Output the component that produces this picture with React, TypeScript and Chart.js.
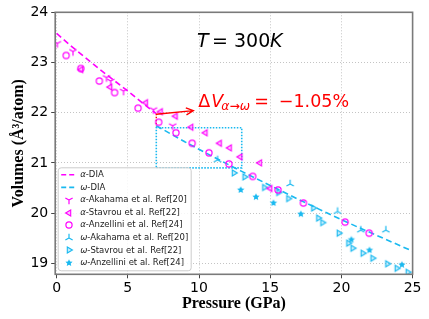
import React, { useEffect, useRef } from 'react';
import { Chart, registerables } from 'chart.js';

Chart.register(...registerables);

// ---------- data ----------
const xTicks = [0, 5, 10, 15, 20, 25];
const yTicks = [19, 20, 21, 22, 23, 24];

const alphaDiaP = [0, 1, 2, 3, 4, 5, 6, 7];
const alphaDiaV = [23.58, 23.33, 23.1, 22.87, 22.65, 22.43, 22.2, 21.98];

const omegaDiaP = [7, 9, 11, 13, 15, 17, 19, 21, 23, 25];
const omegaDiaV = [21.74, 21.42, 21.12, 20.83, 20.55, 20.27, 20.0, 19.74, 19.49, 19.24];

const aAkahamaP = [0.05, 1.15, 3.5, 3.8, 4.7, 6.8, 8.15];
const aAkahamaV = [23.38, 23.22, 22.7, 22.63, 22.43, 22.06, 21.74];

const aStavrouP = [1.72, 3.76, 6.26, 7.3, 8.35, 9.45, 10.45, 11.45, 12.15, 12.9, 14.27, 15.0];
const aStavrouV = [22.86, 22.51, 22.2, 22.02, 21.93, 21.71, 21.6, 21.39, 21.3, 21.12, 21.0, 20.49];

const aAnzelliniP = [0.67, 1.7, 3.0, 4.07, 5.72, 7.17, 8.38, 9.52, 10.7, 12.1, 13.77, 15.55, 17.33, 20.26, 21.95];
const aAnzelliniV = [23.14, 22.88, 22.63, 22.4, 22.09, 21.81, 21.6, 21.39, 21.2, 20.98, 20.73, 20.46, 20.2, 19.82, 19.6];

const wAkahamaP = [11.3, 16.4, 19.73, 21.36, 23.12];
const wAkahamaV = [21.06, 20.58, 20.03, 19.66, 19.66];

const wStavrouP = [12.45, 13.2, 14.59, 15.58, 16.28, 18.03, 18.38, 18.67, 19.82, 20.49, 20.79, 21.5, 22.19, 23.23, 23.89, 24.66];
const wStavrouV = [20.8, 20.72, 20.51, 20.41, 20.29, 20.1, 19.9, 19.81, 19.6, 19.4, 19.3, 19.2, 19.1, 18.99, 18.9, 18.82];

const wAnzelliniP = [12.93, 14.0, 15.23, 17.15, 20.7, 21.97, 24.25];
const wAnzelliniV = [20.46, 20.32, 20.2, 19.98, 19.47, 19.26, 18.97];

// zoom box and transition marker
const boxP = [7, 13, 13, 7, 7];
const boxV = [20.9, 20.9, 21.7, 21.7, 20.9];
const jumpP = [7, 7];
const jumpV = [21.98, 21.73];
const arrowP = [7, 9.6];
const arrowV = [21.97, 22.04];

const legendLabels = [
  ['α', '-DIA'],
  ['ω', '-DIA'],
  ['α', '-Akahama et al. Ref[20]'],
  ['α', '-Stavrou et al. Ref[22]'],
  ['α', '-Anzellini et al. Ref[24]'],
  ['ω', '-Akahama et al. Ref[20]'],
  ['ω', '-Stavrou et al. Ref[22]'],
  ['ω', '-Anzellini et al. Ref[24]'],
];

const MAG = '#ff00ff';
const CYA = '#19b9f0';
const RED = '#ff0000';

const pts = (xs: number[], ys: number[]) => xs.map((x, i) => ({ x, y: ys[i] }));

function makeMarker(kind: string, color: string) {
  const size = 12;
  const c = document.createElement('canvas');
  c.width = size;
  c.height = size;
  const g = c.getContext('2d')!;
  const m = size / 2;
  g.strokeStyle = color;
  g.fillStyle = color;
  g.lineWidth = 1.2;
  if (kind === 'triDown' || kind === 'triUp') {
    const r = 4.2;
    const s = kind === 'triDown' ? 1 : -1;
    g.beginPath();
    g.moveTo(m, m); g.lineTo(m, m + s * r);
    g.moveTo(m, m); g.lineTo(m - 0.866 * r, m - s * 0.5 * r);
    g.moveTo(m, m); g.lineTo(m + 0.866 * r, m - s * 0.5 * r);
    g.stroke();
  } else if (kind === 'triLeft' || kind === 'triRight') {
    const r = 3.4;
    const s = kind === 'triLeft' ? -1 : 1;
    g.lineWidth = 1.1;
    g.beginPath();
    g.moveTo(m + s * r, m);
    g.lineTo(m - s * 0.5 * r, m - 0.866 * r);
    g.lineTo(m - s * 0.5 * r, m + 0.866 * r);
    g.closePath();
    g.globalAlpha = 0.25;
    g.fill();
    g.globalAlpha = 1;
    g.stroke();
  } else if (kind === 'circle') {
    g.beginPath();
    g.arc(m, m, 3.1, 0, Math.PI * 2);
    g.stroke();
  } else if (kind === 'star') {
    const ro = 3.8, ri = 1.8;
    g.beginPath();
    for (let i = 0; i < 10; i++) {
      const r = i % 2 === 0 ? ro : ri;
      const a = -Math.PI / 2 + (i * Math.PI) / 5;
      const px = m + r * Math.cos(a);
      const py = m + r * Math.sin(a);
      if (i === 0) g.moveTo(px, py); else g.lineTo(px, py);
    }
    g.closePath();
    g.fill();
  }
  return c;
}

export default function App() {
  const ref = useRef<HTMLCanvasElement>(null);

  useEffect(() => {
    document.body.style.margin = '0';
    const canvas = ref.current!;
    const mk = {
      aAk: makeMarker('triDown', MAG),
      aSt: makeMarker('triLeft', MAG),
      aAn: makeMarker('circle', MAG),
      wAk: makeMarker('triUp', CYA),
      wSt: makeMarker('triRight', CYA),
      wAn: makeMarker('star', CYA),
    };

    const scatterDs = (label: string, xs: number[], ys: number[], style: HTMLCanvasElement, color: string) => ({
      label,
      data: pts(xs, ys),
      showLine: false,
      pointStyle: style,
      pointRadius: 4,
      borderColor: color,
      backgroundColor: color,
      order: 0,
    });

    const lineDs = (label: string, xs: number[], ys: number[], color: string, dash: number[], width: number) => ({
      label,
      data: pts(xs, ys),
      showLine: true,
      borderColor: color,
      borderWidth: width,
      borderDash: dash,
      pointRadius: 0,
      fill: false,
      tension: 0,
      order: 5,
    });

    const overlay = {
      id: 'overlay',
      afterDatasetsDraw(chart: any) {
        const { ctx, chartArea: a, scales } = chart;
        const sx = scales.x, sy = scales.y;
        ctx.save();
        // frame
        ctx.strokeStyle = '#7a7a7a';
        ctx.lineWidth = 1.6;
        ctx.setLineDash([]);
        ctx.strokeRect(a.left, a.top, a.right - a.left, a.bottom - a.top);

        // arrow
        const x0 = sx.getPixelForValue(arrowP[0]), y0 = sy.getPixelForValue(arrowV[0]);
        const x1 = sx.getPixelForValue(arrowP[1]), y1 = sy.getPixelForValue(arrowV[1]);
        ctx.strokeStyle = RED;
        ctx.lineWidth = 1.4;
        ctx.beginPath();
        ctx.moveTo(x0, y0); ctx.lineTo(x1, y1);
        const ang = Math.atan2(y1 - y0, x1 - x0);
        const hl = 8, ha = 0.45;
        ctx.moveTo(x1 - hl * Math.cos(ang - ha), y1 - hl * Math.sin(ang - ha));
        ctx.lineTo(x1, y1);
        ctx.lineTo(x1 - hl * Math.cos(ang + ha), y1 - hl * Math.sin(ang + ha));
        ctx.stroke();

        // T = 300K
        const tx = sx.getPixelForValue(9.86), ty = sy.getPixelForValue(23.3);
        ctx.fillStyle = '#000';
        ctx.textBaseline = 'alphabetic';
        ctx.textAlign = 'left';
        ctx.font = 'italic 19px "DejaVu Sans"';
        ctx.fillText('T', tx, ty);
        ctx.font = '19px "DejaVu Sans"';
        ctx.fillText('=', tx + 15, ty);
        ctx.fillText('300', tx + 37, ty);
        ctx.font = 'italic 19px "DejaVu Sans"';
        ctx.fillText('K', tx + 73, ty);

        // Delta V annotation
        const dx = sx.getPixelForValue(9.95), dy = sy.getPixelForValue(22.12);
        ctx.fillStyle = RED;
        ctx.font = '17.5px "DejaVu Sans"';
        ctx.fillText('Δ', dx, dy);
        ctx.font = 'italic 17.5px "DejaVu Sans"';
        ctx.fillText('V', dx + 13, dy);
        ctx.font = 'italic 12.3px "DejaVu Sans"';
        ctx.fillText('α→ω', dx + 23, dy + 3.5);
        ctx.font = '17.5px "DejaVu Sans"';
        ctx.fillText('=', dx + 56, dy);
        ctx.fillText('−1.05%', dx + 80.5, dy);

        // legend
        const lx = a.left + 3, lw = 133, lh = 103;
        const ly = a.bottom - 3.5 - lh;
        ctx.fillStyle = 'rgba(255,255,255,0.85)';
        ctx.strokeStyle = '#cccccc';
        ctx.lineWidth = 1;
        ctx.beginPath();
        if ((ctx as any).roundRect) (ctx as any).roundRect(lx, ly, lw, lh, 3); else ctx.rect(lx, ly, lw, lh);
        ctx.fill();
        ctx.stroke();
        const markers = [null, null, mk.aAk, mk.aSt, mk.aAn, mk.wAk, mk.wSt, mk.wAn];
        const colors = [MAG, CYA, MAG, MAG, MAG, CYA, CYA, CYA];
        for (let i = 0; i < legendLabels.length; i++) {
          const ry = ly + 7 + i * 12.6;
          const mx = lx + 11;
          if (i < 2) {
            ctx.strokeStyle = colors[i];
            ctx.lineWidth = 1.6;
            ctx.setLineDash([5, 3]);
            ctx.beginPath();
            ctx.moveTo(lx + 3, ry); ctx.lineTo(lx + 19, ry);
            ctx.stroke();
            ctx.setLineDash([]);
          } else {
            const m = markers[i]!;
            ctx.drawImage(m, Math.round(mx - m.width / 2), Math.round(ry - m.height / 2));
          }
          ctx.fillStyle = '#222';
          ctx.textBaseline = 'middle';
          ctx.font = 'italic 8.5px "DejaVu Sans"';
          const tx0 = lx + 22;
          ctx.fillText(legendLabels[i][0], tx0, ry);
          const w = ctx.measureText(legendLabels[i][0]).width;
          ctx.font = '8.5px "DejaVu Sans"';
          ctx.fillText(legendLabels[i][1], tx0 + w, ry);
        }
        ctx.restore();
      },
    };

    const tickFont = { family: 'DejaVu Sans', size: 14 };
    const titleFont = { family: 'Liberation Serif', size: 16, weight: 'bold' as const };

    const chart = new Chart(canvas, {
      type: 'scatter',
      data: {
        datasets: [
          lineDs('α-DIA', alphaDiaP, alphaDiaV, MAG, [6, 3.5], 1.6),
          lineDs('ω-DIA', omegaDiaP, omegaDiaV, CYA, [6, 3.5], 1.6),
          lineDs('box', boxP, boxV, CYA, [1.5, 1.5], 1.6),
          lineDs('jump', jumpP, jumpV, RED, [1.5, 1.5], 1.4),
          scatterDs('α-Akahama', aAkahamaP, aAkahamaV, mk.aAk, MAG),
          scatterDs('α-Stavrou', aStavrouP, aStavrouV, mk.aSt, MAG),
          scatterDs('α-Anzellini', aAnzelliniP, aAnzelliniV, mk.aAn, MAG),
          scatterDs('ω-Akahama', wAkahamaP, wAkahamaV, mk.wAk, CYA),
          scatterDs('ω-Stavrou', wStavrouP, wStavrouV, mk.wSt, CYA),
          scatterDs('ω-Anzellini', wAnzelliniP, wAnzelliniV, mk.wAn, CYA),
        ] as any,
      },
      options: {
        responsive: false,
        animation: false,
        devicePixelRatio: 1,
        layout: { padding: { left: 0, right: 16.4, top: 12.3, bottom: 0 } },
        plugins: { legend: { display: false }, tooltip: { enabled: false } },
        scales: {
          x: {
            type: 'linear',
            min: -0.1,
            max: 25,
            afterBuildTicks: (s: any) => { s.ticks = xTicks.map((v) => ({ value: v })); },
            afterFit: (s: any) => { s.height = 44.7; },
            ticks: { font: tickFont, color: '#000', padding: 2, maxRotation: 0 },
            grid: { color: '#c4c4c4', lineWidth: 1, drawTicks: true, tickLength: 4, tickColor: '#444', tickWidth: 1, tickBorderDash: [] },
            border: { display: false, dash: [1, 2] },
            title: { display: true, text: 'Pressure (GPa)', font: titleFont, color: '#000', padding: { top: 0, bottom: 6 } },
          },
          y: {
            type: 'linear',
            min: 18.78,
            max: 24,
            afterBuildTicks: (s: any) => { s.ticks = yTicks.map((v) => ({ value: v })); },
            afterFit: (s: any) => { s.width = 55.2; },
            ticks: { font: tickFont, color: '#000', padding: 3 },
            grid: { color: '#c4c4c4', lineWidth: 1, drawTicks: true, tickLength: 4, tickColor: '#444', tickWidth: 1, tickBorderDash: [] },
            border: { display: false, dash: [1, 2] },
            title: { display: true, text: 'Volumes (Å³/atom)', font: titleFont, color: '#000', padding: { top: 9, bottom: 0 } },
          },
        },
      } as any,
      plugins: [overlay],
    });
    return () => chart.destroy();
  }, []);

  return (
    <div style={{ width: 429, height: 319 }}>
      <canvas ref={ref} width={429} height={319} style={{ display: 'block' }} />
    </div>
  );
}
